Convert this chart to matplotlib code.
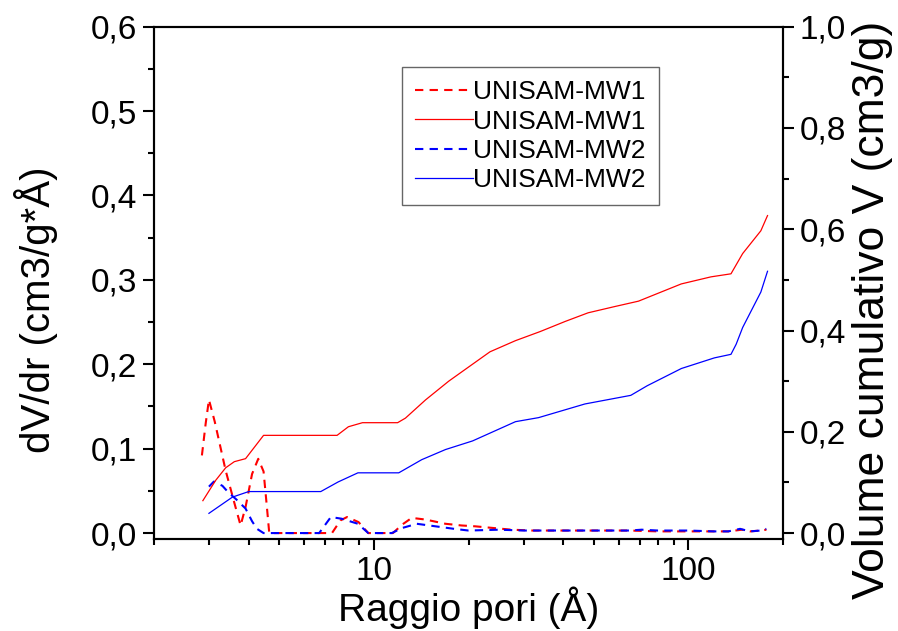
import matplotlib
matplotlib.use("Agg")
import matplotlib.pyplot as plt
from matplotlib.ticker import FixedLocator, MultipleLocator, FuncFormatter, LogLocator, NullFormatter

plt.rcParams['font.family'] = ['Liberation Sans', 'DejaVu Sans']

# dV/dr data (left axis)
x_dv1 = [2.84, 2.92, 2.99, 3.12, 3.38, 3.6, 3.77, 3.91, 4.1, 4.29, 4.46, 4.57, 4.65, 5.0, 6.0, 7.36,
         7.83, 8.22, 8.94, 9.6, 10.5, 11.5, 12.3, 13.2, 14.6, 16.9, 19.0, 21.0, 24.0, 27.4, 32, 40,
         50, 65, 80, 100, 120, 134, 148, 157, 170, 177]
y_dv1 = [0.092, 0.130, 0.158, 0.132, 0.074, 0.036, 0.009, 0.031, 0.070, 0.088, 0.073, 0.031, 0.0,
         0.0, 0.0, 0.0, 0.015, 0.019, 0.013, 0.0, 0.0, 0.0, 0.010, 0.018, 0.016, 0.011, 0.009, 0.008,
         0.006, 0.004, 0.003, 0.003, 0.003, 0.003, 0.002, 0.002, 0.002, 0.002, 0.004, 0.002, 0.003, 0.004]

x_dv2 = [2.99, 3.1, 3.3, 3.45, 3.65, 3.91, 4.1, 4.25, 4.46, 5.0, 6.7, 7.3, 7.9, 8.9, 9.6, 10.5,
         11.4, 12.3, 13.7, 15.7, 18, 20, 25, 30, 40, 50, 65, 71, 80, 100, 120, 134, 146, 157, 170, 177]
y_dv2 = [0.055, 0.061, 0.056, 0.048, 0.040, 0.029, 0.014, 0.005, 0.0, 0.0, 0.0, 0.019, 0.017,
         0.011, 0.0, 0.0, 0.0, 0.006, 0.011, 0.008, 0.005, 0.003, 0.004, 0.003, 0.003, 0.003,
         0.003, 0.004, 0.003, 0.003, 0.002, 0.002, 0.005, 0.002, 0.003, 0.005]

# Cumulative volume (right axis)
x_v1 = [2.86, 3.14, 3.38, 3.6, 3.91, 4.46, 7.64, 8.3, 9.2, 11.9, 12.6, 14.6, 17.3, 19.5, 23.4,
        28.2, 33.8, 40.6, 48, 58, 69.4, 94.9, 118, 136.6, 148.8, 170, 178.5]
y_v1 = [0.064, 0.104, 0.129, 0.141, 0.147, 0.193, 0.193, 0.210, 0.218, 0.218, 0.227, 0.263,
        0.300, 0.323, 0.358, 0.380, 0.398, 0.418, 0.435, 0.447, 0.458, 0.492, 0.506, 0.512,
        0.552, 0.597, 0.627]

x_v2 = [2.99, 3.55, 4.0, 6.78, 7.7, 8.9, 12.0, 14.2, 16.9, 20.6, 28.2, 33.4, 46.9, 65.6, 74,
        95, 121, 136.6, 141.9, 148.8, 170, 178.5]
y_v2 = [0.039, 0.071, 0.082, 0.082, 0.101, 0.119, 0.119, 0.145, 0.165, 0.182, 0.220, 0.228,
        0.255, 0.272, 0.291, 0.325, 0.346, 0.353, 0.373, 0.406, 0.476, 0.517]

labels = ["UNISAM-MW1", "UNISAM-MW1", "UNISAM-MW2", "UNISAM-MW2"]

fig = plt.figure(figsize=(8.98, 6.31), dpi=100)
ax = fig.add_axes([0.1715, 0.1453, 0.7005, 0.8124])
ax2 = ax.twinx()

RED = '#FF0000'
BLUE = '#0000FF'

l1, = ax.plot(x_dv1, y_dv1, color=RED, lw=1.5, dashes=(4, 3), label=labels[0])
l3, = ax.plot(x_dv2, y_dv2, color=BLUE, lw=1.5, dashes=(4, 3), label=labels[2])
l2, = ax2.plot(x_v1, y_v1, color=RED, lw=0.9, label=labels[1])
l4, = ax2.plot(x_v2, y_v2, color=BLUE, lw=0.9, label=labels[3])

ax.set_xscale('log')
ax.set_xlim(2, 200)
ax.set_ylim(-0.0074, 0.6)
ax2.set_ylim(-0.0123, 1.0)

comma = FuncFormatter(lambda v, p: f"{v:.1f}".replace('.', ','))
ax.yaxis.set_major_locator(MultipleLocator(0.1))
ax.yaxis.set_minor_locator(MultipleLocator(0.05))
ax.yaxis.set_major_formatter(comma)
ax2.yaxis.set_major_locator(MultipleLocator(0.2))
ax2.yaxis.set_minor_locator(MultipleLocator(0.1))
ax2.yaxis.set_major_formatter(comma)

ax.xaxis.set_major_locator(FixedLocator([10, 100]))
ax.xaxis.set_major_formatter(FuncFormatter(lambda v, p: f"{int(round(v))}"))
ax.xaxis.set_minor_locator(LogLocator(base=10, subs=range(2, 10), numticks=20))
ax.xaxis.set_minor_formatter(NullFormatter())

for a in (ax, ax2):
    a.tick_params(which='major', direction='out', length=8, width=1.5, labelsize=24, pad=4)
    a.tick_params(which='minor', direction='out', length=4, width=1.5)
    for s in a.spines.values():
        s.set_linewidth(1.5)

ax.set_xlabel("Raggio pori (Å)", fontsize=28)
ax.set_ylabel("dV/dr (cm3/g*Å)", fontsize=29)
ax2.set_ylabel("Volume cumulativo V (cm3/g)", fontsize=32)

ax.xaxis.set_label_coords(0.5, -0.092)
ax.yaxis.set_label_coords(-0.153, 0.447)
ax2.yaxis.set_label_coords(1.11, 0.447)

leg = ax.legend([l1, l2, l3, l4], labels, loc='upper left', bbox_to_anchor=(0.394, 0.921),
                fontsize=19, frameon=True, fancybox=False, framealpha=1, edgecolor='#666666',
                handlelength=2.2, handletextpad=0.0, labelspacing=0.2, borderpad=0.5,
                borderaxespad=0)
leg.get_frame().set_linewidth(1.0)

fig.savefig("out.png", dpi=100)
